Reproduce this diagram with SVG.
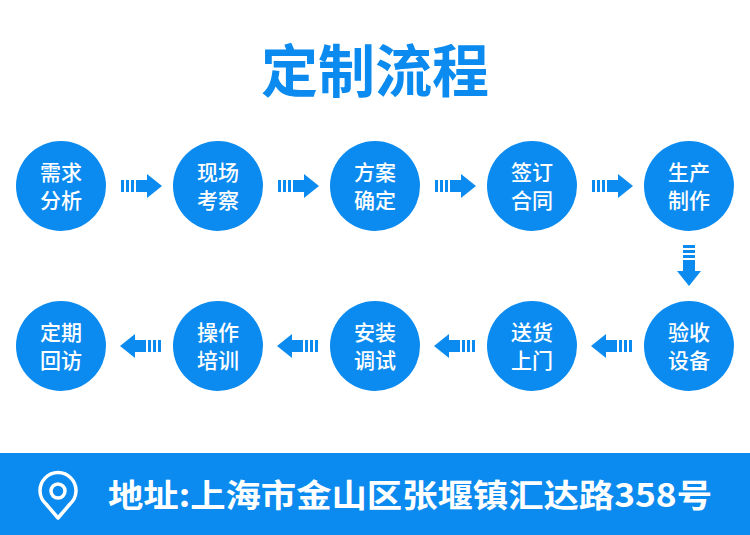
<svg xmlns="http://www.w3.org/2000/svg" xmlns:xlink="http://www.w3.org/1999/xlink" width="750" height="535" viewBox="0 0 750 535">
<style>
.c{fill:#0b8bef}
.t{font-family:"Noto Sans CJK SC",sans-serif;font-size:21px;fill:#fff;text-anchor:middle;font-weight:500}
.a{fill:#0b8bef}
</style>
<defs>
<g id="arr" class="a"><rect x="-20" y="-6" width="3" height="12"/><rect x="-15" y="-6" width="3" height="12"/><rect x="-10" y="-6" width="3" height="12"/><rect x="-5" y="-6" width="12" height="12"/><polygon points="6,-12 21,0 6,12"/></g>
</defs>
<rect width="750" height="535" fill="#fff"/>
<text x="375" y="92" font-family="Noto Sans CJK SC,sans-serif" font-size="57" font-weight="bold" fill="#0b8bef" text-anchor="middle">定制流程</text>
<g id="connectors">
<use xlink:href="#arr" transform="translate(141,186)"/>
<use xlink:href="#arr" transform="translate(298,186)"/>
<use xlink:href="#arr" transform="translate(455,186)"/>
<use xlink:href="#arr" transform="translate(612,186)"/>
<use xlink:href="#arr" transform="translate(689,265) rotate(90)"/>
<use xlink:href="#arr" transform="translate(612,346) rotate(180)"/>
<use xlink:href="#arr" transform="translate(455,346) rotate(180)"/>
<use xlink:href="#arr" transform="translate(298,346) rotate(180)"/>
<use xlink:href="#arr" transform="translate(141,346) rotate(180)"/>
</g>
<g id="n1"><circle class="c" cx="61" cy="186" r="45"/><text class="t" x="61" y="180">需求</text><text class="t" x="61" y="208">分析</text></g>
<g id="n2"><circle class="c" cx="218" cy="186" r="45"/><text class="t" x="218" y="180">现场</text><text class="t" x="218" y="208">考察</text></g>
<g id="n3"><circle class="c" cx="375" cy="186" r="45"/><text class="t" x="375" y="180">方案</text><text class="t" x="375" y="208">确定</text></g>
<g id="n4"><circle class="c" cx="532" cy="186" r="45"/><text class="t" x="532" y="180">签订</text><text class="t" x="532" y="208">合同</text></g>
<g id="n5"><circle class="c" cx="689" cy="186" r="45"/><text class="t" x="689" y="180">生产</text><text class="t" x="689" y="208">制作</text></g>
<g id="n6"><circle class="c" cx="689" cy="346" r="45"/><text class="t" x="689" y="340">验收</text><text class="t" x="689" y="368">设备</text></g>
<g id="n7"><circle class="c" cx="532" cy="346" r="45"/><text class="t" x="532" y="340">送货</text><text class="t" x="532" y="368">上门</text></g>
<g id="n8"><circle class="c" cx="375" cy="346" r="45"/><text class="t" x="375" y="340">安装</text><text class="t" x="375" y="368">调试</text></g>
<g id="n9"><circle class="c" cx="218" cy="346" r="45"/><text class="t" x="218" y="340">操作</text><text class="t" x="218" y="368">培训</text></g>
<g id="n10"><circle class="c" cx="61" cy="346" r="45"/><text class="t" x="61" y="340">定期</text><text class="t" x="61" y="368">回访</text></g>
<rect x="0" y="453" width="750" height="82" fill="#0b8bef"/>
<g fill="none" stroke="#fff" stroke-width="3.5">
<path d="M58,518 L46,504 A18,18 0 1 1 70,504 Z" stroke-linejoin="round"/>
<circle cx="58" cy="491" r="7"/>
</g>
<text x="108" y="507" font-family="Noto Sans CJK SC,sans-serif" font-size="32" font-weight="bold" fill="#fff" textLength="604" lengthAdjust="spacingAndGlyphs">地址:上海市金山区张堰镇汇达路358号</text>
</svg>
